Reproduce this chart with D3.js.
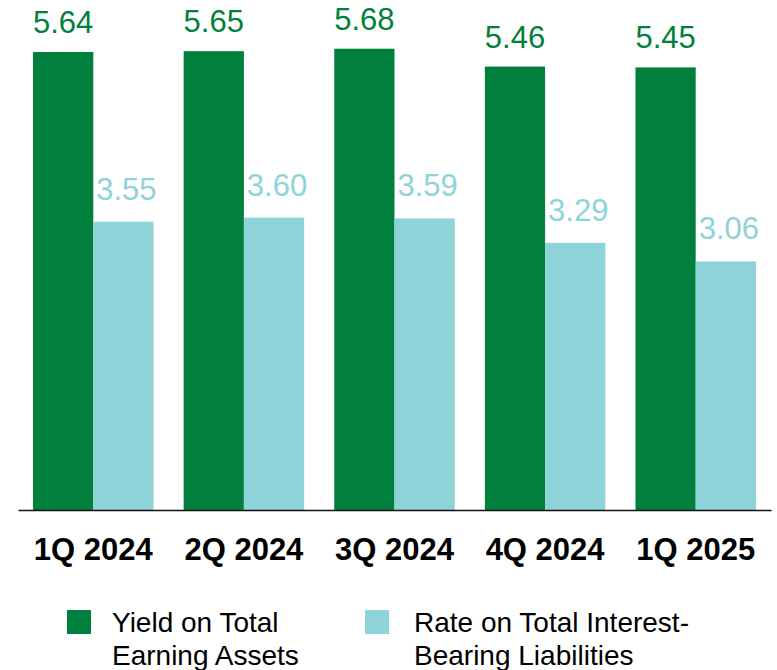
<!DOCTYPE html>
<html>
<head>
<meta charset="utf-8">
<script src="https://cdn.jsdelivr.net/npm/d3@7"></script>
<style>
  html, body { margin: 0; padding: 0; background: #fff; }
  svg { display: block; font-family: "Liberation Sans", Arial, sans-serif; }
</style>
</head>
<body>
<svg id="chart" width="777" height="670"></svg>
<script>
const categories = ["1Q 2024", "2Q 2024", "3Q 2024", "4Q 2024", "1Q 2025"];
const seriesNames = ["Yield on Total Earning Assets", "Rate on Total Interest-Bearing Liabilities"];
const yieldValues = [5.64, 5.65, 5.68, 5.46, 5.45];
const rateValues = [3.55, 3.60, 3.59, 3.29, 3.06];
const legendLines = [["Yield on Total", "Earning Assets"], ["Rate on Total Interest-", "Bearing Liabilities"]];

const colors = ["#00803C", "#8ED3D8"];
const series = [
  { key: seriesNames[0], values: yieldValues, color: colors[0], labelGap: 19, labelDx: 0 },
  { key: seriesNames[1], values: rateValues, color: colors[1], labelGap: 22, labelDx: 3 }
];

const svg = d3.select("#chart");
const baseY = 510;

const x = d3.scaleBand().domain(categories).range([18, 771]).paddingInner(0.2).paddingOuter(0.1);
const xs = d3.scaleBand().domain(seriesNames).range([0, x.bandwidth()]);
const y = d3.scaleLinear().domain([0, 6.28]).range([baseY, 0]);

const groups = svg.selectAll("g.series").data(series).join("g").attr("class", "series");

groups.selectAll("rect").data(s => s.values.map((v, i) => ({ v, cat: categories[i], s })))
  .join("rect")
  .attr("x", d => x(d.cat) + xs(d.s.key))
  .attr("y", d => y(d.v))
  .attr("width", xs.bandwidth())
  .attr("height", d => y(0) - y(d.v))
  .attr("fill", d => d.s.color);

groups.selectAll("text").data(s => s.values.map((v, i) => ({ v, cat: categories[i], s })))
  .join("text")
  .attr("x", d => x(d.cat) + xs(d.s.key) + xs.bandwidth() / 2 + d.s.labelDx)
  .attr("y", d => y(d.v) - d.s.labelGap)
  .attr("text-anchor", "middle")
  .attr("font-size", 31)
  .attr("fill", d => d.s.color)
  .text(d => d.v.toFixed(2));

// x axis
const xAxis = svg.append("g").attr("transform", `translate(0,${baseY})`)
  .call(d3.axisBottom(x).tickSize(0).tickPadding(0).tickSizeOuter(0));
xAxis.select(".domain").attr("stroke", "#111").attr("stroke-width", 1.6);
xAxis.selectAll(".tick text")
  .attr("y", 50)
  .attr("dy", 0)
  .attr("font-size", 31)
  .attr("font-weight", "bold")
  .attr("font-family", "'Liberation Sans', Arial, sans-serif")
  .attr("fill", "#000");

// legend
const legendX = [67, 365];
const legend = svg.selectAll("g.legend").data(series).join("g").attr("class", "legend")
  .attr("transform", (d, i) => `translate(${legendX[i]},610)`);
legend.append("rect").attr("width", 24).attr("height", 24).attr("fill", d => d.color);
legend.each(function(d, i) {
  const tx = i === 0 ? 45 : 49;
  const t = d3.select(this).append("text")
    .attr("x", tx)
    .attr("y", 22)
    .attr("font-size", 28)
    .attr("fill", "#000");
  legendLines[i].forEach((line, j) => {
    t.append("tspan").attr("x", tx).attr("dy", j === 0 ? 0 : 33).text(line);
  });
});
</script>
</body>
</html>
